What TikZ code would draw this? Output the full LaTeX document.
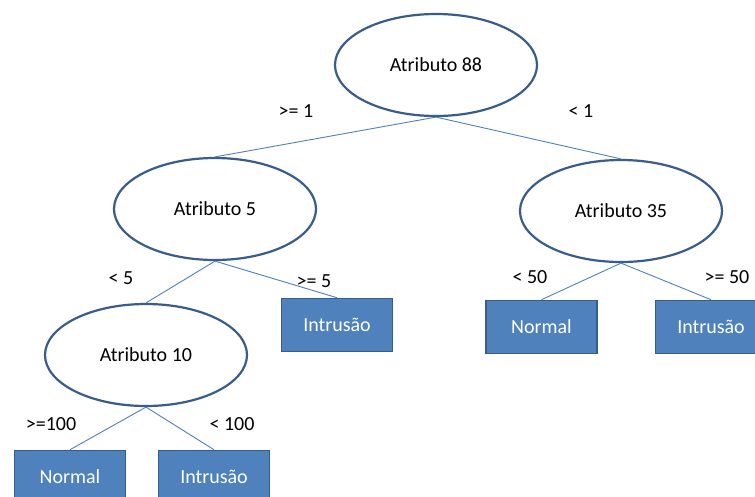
\documentclass[tikz,border=0pt]{standalone}
\usepackage{fontspec}
\setmainfont{Carlito}
\usetikzlibrary{shapes.geometric}
\definecolor{outl}{HTML}{385D8A}
\definecolor{fillb}{HTML}{4F81BD}
\begin{document}
\begin{tikzpicture}[x=1pt,y=-1pt,
  attr/.style={ellipse,draw=outl,line width=2.2pt,fill=white,minimum width=202pt,minimum height=102pt,inner sep=0pt,font=\fontsize{20}{24}\selectfont},
  leaf/.style={rectangle,draw=outl,line width=1.6pt,fill=fillb,minimum width=111pt,minimum height=53pt,inner sep=0pt,text=white,font=\fontsize{20}{24}\selectfont},
  edge/.style={draw=fillb,line width=0.9pt},
  lbl/.style={font=\fontsize{20}{24}\selectfont,inner sep=0pt}]
\useasboundingbox (0,0) rectangle (755,496);
\clip (0,0) rectangle (755,496);
\fill[white] (0,0) rectangle (755,496);

% attribute tests
\node[attr] (a88) at (436,65) {Atributo 88};
\node[attr] (a5) at (215,209) {Atributo 5};
\node[attr] (a35) at (621,211) {Atributo 35};
\node[attr] (a10) at (146,355) {Atributo 10};

% leaves
\node[leaf] (i5) at (337,325) {Intrusão};
\node[leaf] (n35) at (541.5,327) {Normal};
\node[leaf] (i35) at (711,327) {Intrusão};
\node[leaf] (n10) at (70,477) {Normal};
\node[leaf] (i10) at (214,477) {Intrusão};

% branches
\draw[edge] (a88.south) -- (a5.north);
\draw[edge] (a88.south) -- (a35.north);
\draw[edge] (a5.south) -- (a10.north);
\draw[edge] (a5.south) -- (i5.north);
\draw[edge] (a35.south) -- (n35.north);
\draw[edge] (a35.south) -- (i35.north);
\draw[edge] (a10.south) -- (n10.north);
\draw[edge] (a10.south) -- (i10.north);

% branch conditions
\node[lbl] (l1) at (296,111) {>= 1};
\node[lbl] (l2) at (581,111) {< 1};
\node[lbl] (l3) at (121,278) {< 5};
\node[lbl] (l4) at (314,281) {>= 5};
\node[lbl] (l5) at (530,277) {< 50};
\node[lbl] (l6) at (727,277) {>= 50};
\node[lbl] (l7) at (51,424) {>=100};
\node[lbl] (l8) at (232,424) {< 100};
\end{tikzpicture}
\end{document}
